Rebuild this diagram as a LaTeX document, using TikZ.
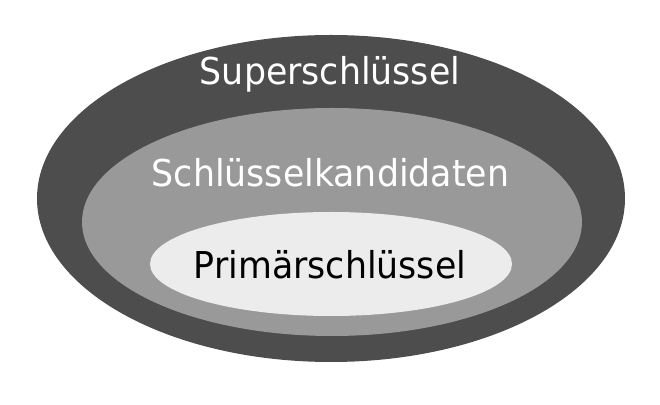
\documentclass[tikz,border=0pt]{standalone}
\usepackage{fontspec}
\usepackage{graphicx}
\setmainfont{DejaVu Sans}
\definecolor{outerc}{HTML}{4D4D4D}
\definecolor{midc}{HTML}{999999}
\definecolor{innerc}{HTML}{ECECEC}
\newcommand{\cond}[1]{\scalebox{0.94}[1]{#1}}
\begin{document}
\begin{tikzpicture}[x=0.5pt,y=-0.5pt,
  lbl/.style={font=\fontsize{18.5pt}{22pt}\selectfont, inner sep=0pt, anchor=base}]
\useasboundingbox (0,0) rectangle (660,405);
\fill[outerc] (331,198.5) ellipse [x radius=294, y radius=163.5];
\fill[midc] (332,222) ellipse [x radius=250, y radius=114];
\fill[innerc] (331,264) ellipse [x radius=181, y radius=52];
\node[lbl, text=white] (super) at (330,85) {\cond{Superschlüssel}};
\node[lbl, text=white] (kand) at (330.5,187) {\cond{Schlüsselkandidaten}};
\node[lbl, text=black] (prim) at (330,278.5) {\cond{Primärschlüssel}};
\end{tikzpicture}
\end{document}
